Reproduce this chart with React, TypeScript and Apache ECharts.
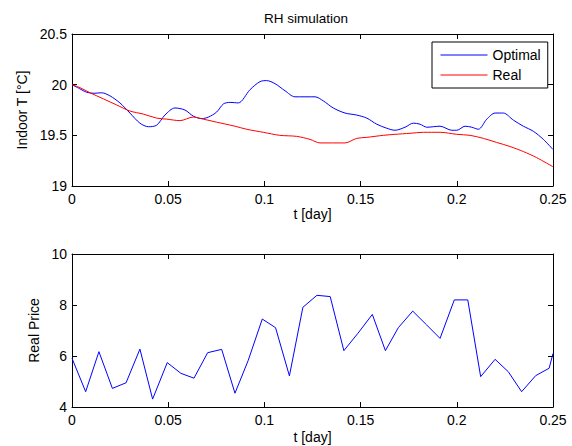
import React, { useEffect, useRef } from 'react';
import * as echarts from 'echarts';

const FONT = '"Liberation Sans", Arial, Helvetica, sans-serif';

const chartTitle = 'RH simulation';
const seriesNames = ['Optimal', 'Real'];
const topYName = 'Indoor T [°C]';
const bottomYName = 'Real Price';
const xName = 't [day]';

const optimalT = [0, 0.004, 0.0076, 0.0115, 0.0154, 0.0197, 0.0249, 0.0301, 0.0353, 0.0397, 0.044, 0.0483, 0.0535, 0.0587, 0.063, 0.0674, 0.0709, 0.0752, 0.0787, 0.0821, 0.0864, 0.0925, 0.0977, 0.1012, 0.1055, 0.1107, 0.1159, 0.1263, 0.1306, 0.1358, 0.1419, 0.148, 0.1532, 0.1584, 0.1636, 0.1679, 0.1731, 0.1774, 0.1809, 0.1844, 0.1913, 0.1974, 0.2, 0.2043, 0.2078, 0.2112, 0.2156, 0.2199, 0.2242, 0.2294, 0.2346, 0.2398, 0.245, 0.25];
const optimalV = [20.0, 19.96, 19.925, 19.915, 19.92, 19.89, 19.82, 19.72, 19.62, 19.585, 19.6, 19.7, 19.77, 19.75, 19.69, 19.665, 19.68, 19.73, 19.81, 19.825, 19.82, 19.95, 20.03, 20.04, 20.01, 19.94, 19.88, 19.88, 19.84, 19.77, 19.72, 19.7, 19.67, 19.61, 19.57, 19.55, 19.58, 19.62, 19.61, 19.58, 19.59, 19.55, 19.55, 19.59, 19.58, 19.56, 19.66, 19.72, 19.72, 19.65, 19.59, 19.54, 19.46, 19.36];

const realT = [0, 0.0042, 0.0094, 0.0163, 0.0232, 0.0301, 0.037, 0.044, 0.0492, 0.0561, 0.063, 0.0682, 0.0752, 0.0847, 0.0908, 0.0994, 0.108, 0.1167, 0.1237, 0.1289, 0.1419, 0.148, 0.1532, 0.1618, 0.1679, 0.1757, 0.1826, 0.1913, 0.2, 0.2069, 0.2138, 0.2207, 0.2276, 0.2346, 0.2415, 0.25];
const realV = [20.0, 19.97, 19.92, 19.86, 19.8, 19.74, 19.71, 19.67, 19.66, 19.645, 19.68, 19.66, 19.63, 19.59, 19.56, 19.53, 19.5, 19.49, 19.46, 19.425, 19.425, 19.47, 19.48, 19.5, 19.51, 19.52, 19.53, 19.53, 19.51, 19.5, 19.47, 19.43, 19.39, 19.34, 19.28, 19.19];

const priceT = [0, 0.0071, 0.014, 0.021, 0.0281, 0.0353, 0.0419, 0.0495, 0.0566, 0.0634, 0.0705, 0.0778, 0.0847, 0.0916, 0.0989, 0.1058, 0.113, 0.12, 0.1273, 0.1342, 0.1413, 0.1486, 0.1561, 0.1629, 0.1696, 0.1771, 0.1843, 0.1913, 0.1987, 0.2057, 0.2124, 0.2199, 0.2268, 0.2337, 0.241, 0.248, 0.25];
const priceV = [5.91, 4.6, 6.17, 4.73, 4.95, 6.27, 4.31, 5.74, 5.32, 5.13, 6.13, 6.26, 4.54, 5.83, 7.45, 7.11, 5.22, 7.91, 8.38, 8.33, 6.21, 6.89, 7.63, 6.21, 7.11, 7.76, 7.22, 6.69, 8.2, 8.2, 5.19, 5.87, 5.38, 4.6, 5.23, 5.52, 6.1];

const xRange = [0, 0.25, 0.05];
const topYRange = [19, 20.5, 0.5];
const bottomYRange = [4, 10, 2];

export default function App() {
  const ref = useRef<HTMLDivElement>(null);

  useEffect(() => {
    const chart = echarts.init(ref.current!, null, { renderer: 'svg' });
    const zip = (t: number[], v: number[]) => t.map((x, i) => [x, v[i]]);
    const txt = { color: '#000', fontFamily: FONT, fontSize: 14 };
    const line = { show: true, onZero: false, lineStyle: { color: '#000', width: 1 } };
    const tick = { show: true, inside: true, length: 5, lineStyle: { color: '#000', width: 1 } };

    const mkX = (gridIndex: number, position: string, labels: boolean, name?: string, nameGap?: number) => ({
      type: 'value',
      gridIndex,
      position,
      min: xRange[0],
      max: xRange[1],
      interval: xRange[2],
      name: name || '',
      nameLocation: 'middle',
      nameGap: nameGap || 0,
      nameTextStyle: txt,
      axisLine: line,
      axisTick: tick,
      axisLabel: { show: labels, margin: 6, ...txt },
      splitLine: { show: false },
    });
    const mkY = (gridIndex: number, position: string, range: number[], labels: boolean, name?: string, nameGap?: number) => ({
      type: 'value',
      gridIndex,
      position,
      min: range[0],
      max: range[1],
      interval: range[2],
      name: name || '',
      nameLocation: 'middle',
      nameGap: nameGap || 0,
      nameRotate: 90,
      nameTextStyle: txt,
      axisLine: line,
      axisTick: tick,
      axisLabel: { show: labels, margin: 5, ...txt },
      splitLine: { show: false },
    });

    chart.setOption({
      animation: false,
      backgroundColor: '#fff',
      graphic: [
        {
          type: 'text',
          x: 306,
          y: 18,
          style: {
            text: chartTitle,
            fill: '#000',
            font: `13.5px ${FONT}`,
            textAlign: 'center',
            textVerticalAlign: 'middle',
          },
        },
      ],
      grid: [
        { left: 72, top: 34, width: 481, height: 152, show: false },
        { left: 72, top: 254, width: 481, height: 153, show: false },
      ],
      xAxis: [
        mkX(0, 'bottom', true, xName, 21),
        mkX(0, 'top', false),
        mkX(1, 'bottom', true, xName, 23),
        mkX(1, 'top', false),
      ],
      yAxis: [
        mkY(0, 'left', topYRange, true, topYName, 38),
        mkY(0, 'right', topYRange, false),
        mkY(1, 'left', bottomYRange, true, bottomYName, 30),
        mkY(1, 'right', bottomYRange, false),
      ],
      legend: {
        data: seriesNames,
        left: 432,
        top: 42,
        orient: 'vertical',
        itemWidth: 47,
        itemHeight: 14,
        itemGap: 6,
        padding: [6, 7, 6, 8],
        borderColor: '#000',
        borderWidth: 1,
        borderRadius: 0,
        backgroundColor: '#fff',
        selectedMode: false,
        itemStyle: { opacity: 0, borderWidth: 0 },
        lineStyle: { width: 1 },
        textStyle: txt,
      },
      series: [
        {
          type: 'line',
          name: seriesNames[0],
          xAxisIndex: 0,
          yAxisIndex: 0,
          data: zip(optimalT, optimalV),
          symbol: 'none',
          smooth: 0.3,
          lineStyle: { color: '#0000ff', width: 1 },
          itemStyle: { color: '#0000ff' },
        },
        {
          type: 'line',
          name: seriesNames[1],
          xAxisIndex: 0,
          yAxisIndex: 0,
          data: zip(realT, realV),
          symbol: 'none',
          smooth: 0.3,
          lineStyle: { color: '#ff0000', width: 1 },
          itemStyle: { color: '#ff0000' },
        },
        {
          type: 'line',
          name: bottomYName,
          xAxisIndex: 2,
          yAxisIndex: 2,
          data: zip(priceT, priceV),
          symbol: 'none',
          lineStyle: { color: '#0000ff', width: 1 },
          itemStyle: { color: '#0000ff' },
        },
      ],
    });
    return () => chart.dispose();
  }, []);

  return (
    <div
      ref={ref}
      style={{ position: 'absolute', left: 0, top: 0, width: 572, height: 446, background: '#fff' }}
    />
  );
}
